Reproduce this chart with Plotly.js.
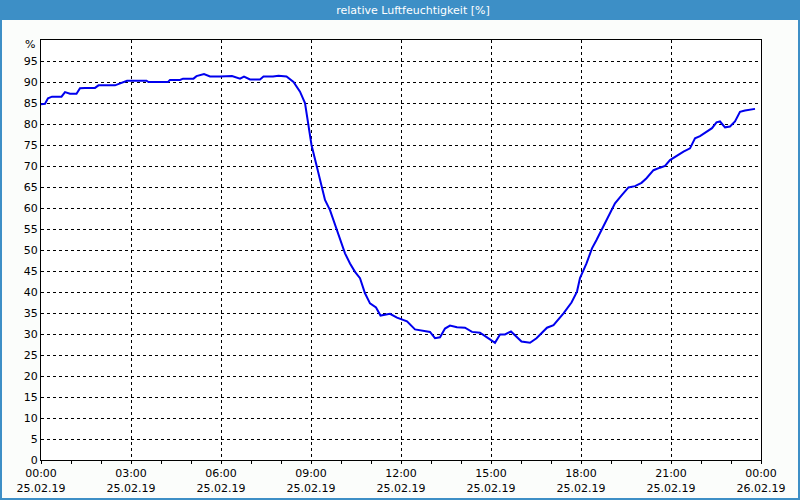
<!DOCTYPE html>
<html>
<head>
<meta charset="utf-8">
<script src="https://cdn.plot.ly/plotly-3.0.1.min.js"></script>
<style>html,body{margin:0;padding:0;background:#fbfdfb;}#chart{width:800px;height:500px;}</style>
</head>
<body>
<div id="chart"></div>
<script>
const day = '2019-02-25';
const times = ['00:00','00:08','00:14','00:22','00:41','00:48','00:58','01:11','01:18','01:28','01:48','01:55','02:28','02:38','02:52','03:31','03:35','04:14','04:18','04:38','04:44','05:05','05:11','05:26','05:38','05:58','06:22','06:38','06:46','06:58','07:18','07:25','07:44','07:55','08:11','08:25','08:38','08:48','08:52','08:56','09:01','09:11','09:22','09:28','09:38','09:48','09:58','10:08','10:18','10:28','10:38','10:48','10:58','11:10','11:19','11:31','11:38','11:52','12:03','12:12','12:28','12:44','12:58','13:08','13:18','13:28','13:38','13:52','14:08','14:22','14:38','14:52','15:08','15:18','15:28','15:40','16:01','16:18','16:31','16:52','17:05','17:25','17:41','17:52','17:58','18:11','18:22','18:31','18:44','18:58','19:08','19:22','19:35','19:48','20:01','20:11','20:25','20:38','20:48','20:58','21:11','21:25','21:38','21:48','21:58','22:11','22:22','22:31','22:38','22:48','22:58','23:08','23:18','23:28','23:48'];
const humidity = [84.7,84.8,86.1,86.5,86.5,87.6,87.2,87.2,88.5,88.6,88.6,89.2,89.2,89.7,90.3,90.3,90.0,90.0,90.5,90.5,90.8,90.8,91.4,91.9,91.3,91.3,91.4,90.8,91.3,90.6,90.6,91.3,91.3,91.5,91.3,90.0,87.7,85.0,82.1,79.4,75.0,70.2,65.1,61.9,59.5,56.0,52.4,49.2,46.8,44.8,43.3,39.7,37.3,36.3,34.4,34.6,34.8,33.9,33.3,33.0,31.1,30.8,30.5,29.0,29.2,31.3,32.0,31.6,31.5,30.5,30.3,29.2,27.9,29.9,29.9,30.6,28.2,27.9,29.0,31.5,32.1,34.9,37.5,40.1,43.3,46.8,50.4,52.4,55.6,58.7,61.1,63.1,64.9,65.2,66.0,67.1,69.0,69.6,70.0,71.4,72.4,73.4,74.2,76.6,77.1,78.2,79.0,80.4,80.6,79.2,79.4,80.6,82.9,83.2,83.6];
const yTickVals = [0,5,10,15,20,25,30,35,40,45,50,55,60,65,70,75,80,85,90,95,100];
const yTickText = ['0','5','10','15','20','25','30','35','40','45','50','55','60','65','70','75','80','85','90','95',''];
const yUnit = '%';
const xTickVals = ['2019-02-25 00:00','2019-02-25 03:00','2019-02-25 06:00','2019-02-25 09:00','2019-02-25 12:00','2019-02-25 15:00','2019-02-25 18:00','2019-02-25 21:00','2019-02-26 00:00'];
const xTickText = ['00:00<br>25.02.19','03:00<br>25.02.19','06:00<br>25.02.19','09:00<br>25.02.19','12:00<br>25.02.19','15:00<br>25.02.19','18:00<br>25.02.19','21:00<br>25.02.19','00:00<br>26.02.19'];
const titleText = 'relative Luftfeuchtigkeit [%]';

const blue = '#3d8fc6';
const W = 720, H = 420, L = 41, T = 40;
const px = v => (v - L) / W;
const py = v => (T + H - v) / H;

const trace = {
  x: times.map(t => day + ' ' + t),
  y: humidity,
  type: 'scatter',
  mode: 'lines',
  line: {color: '#0000ee', width: 2},
  hoverinfo: 'skip'
};

const layout = {
  width: 800, height: 500,
  margin: {l: 41, r: 39, t: 40, b: 40},
  paper_bgcolor: '#fbfdfb',
  plot_bgcolor: '#ffffff',
  showlegend: false,
  font: {family: 'DejaVu Sans', size: 11, color: '#000000'},
  title: {text: titleText, x: 413/800, xref: 'container', xanchor: 'center', y: 1 - 10/500, yref: 'container', yanchor: 'middle', font: {family: 'DejaVu Sans', size: 11, color: '#ffffff'}},
  xaxis: {
    type: 'date',
    range: ['2019-02-25 00:00', '2019-02-26 00:00'],
    tickmode: 'array', tickvals: xTickVals, ticktext: xTickText,
    showline: true, linecolor: '#000000', linewidth: 1, mirror: true,
    showgrid: true, gridcolor: '#000000', gridwidth: 1, griddash: '3px,3px',
    ticks: 'outside', ticklen: 3, tickcolor: '#000000',
    minor: {dtick: 3600000, tick0: '2019-02-25 00:00', ticks: 'outside', ticklen: 3, tickcolor: '#000000', showgrid: false},
    zeroline: false, fixedrange: true,
    tickfont: {family: 'DejaVu Sans', size: 11, color: '#000000'}
  },
  yaxis: {
    range: [0, 100],
    tickmode: 'array', tickvals: yTickVals, ticktext: yTickText,
    showline: true, linecolor: '#000000', linewidth: 1, mirror: true,
    showgrid: true, gridcolor: '#000000', gridwidth: 1, griddash: '3px,3px',
    ticks: '', zeroline: false, fixedrange: true,
    tickfont: {family: 'DejaVu Sans', size: 11, color: '#000000'}
  },
  annotations: [
    {text: yUnit, xref: 'paper', yref: 'paper', x: px(37), y: py(45), xanchor: 'right', yanchor: 'middle', showarrow: false, font: {family: 'DejaVu Sans', size: 11, color: '#000000'}}
  ],
  shapes: [
    {type: 'rect', xref: 'paper', yref: 'paper', layer: 'below',
     x0: px(0), x1: px(800), y0: py(20), y1: py(0),
     fillcolor: blue, line: {width: 0}},
    {type: 'rect', xref: 'paper', yref: 'paper', layer: 'below',
     x0: px(1), x1: px(799), y0: py(499), y1: py(1),
     fillcolor: 'rgba(0,0,0,0)', line: {color: blue, width: 2}}
  ]
};

Plotly.newPlot('chart', [trace], layout, {displayModeBar: false, staticPlot: true});
</script>
</body>
</html>
